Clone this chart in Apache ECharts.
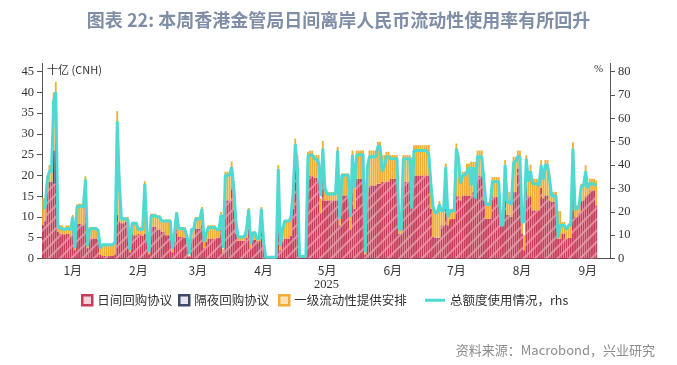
<!DOCTYPE html>
<html><head><meta charset="utf-8">
<script src="https://cdn.jsdelivr.net/npm/echarts@6/dist/echarts.min.js"></script>
<style>html,body{margin:0;padding:0;background:#fff}#c{width:677px;height:365px}</style>
</head><body><div id="c"></div>
<script>
// ---------------- data (daily, calendar days from 2025-01-01) ----------------
const startDate = '2025-01-01';
const axisEndDate = '2025-09-25';
const monthLabels = ['1月','2月','3月','4月','5月','6月','7月','8月','9月'];
const leftTicks = [0,5,10,15,20,25,30,35,40,45];
const rightTicks = [0,10,20,30,40,50,60,70,80];
const seriesNames = ['日间回购协议','隔夜回购协议','一级流动性提供安排','总额度使用情况，rhs'];

// 日间回购协议 (十亿 CNH)
const intradayRepo = [
 8,9,16,18.5,18.5,18,18,6.5,6,6,5.8,6,6,5.5,7,2,8.4,8.4,8.4,8,12.5,2.5,5,4.8,4.8,4.8,4.5,1,0.6,0.6,0.6,
 0.6,0.6,0.6,1,10.5,9,8.5,8.5,8.8,8.5,1.5,6,5.6,5.6,6,6,5.5,6,5,1,7.6,7.6,7.6,7,7,6.4,6.4,5.6,
 5.6,5.6,1.5,4,7,5.2,5.2,5.2,5,3,0.5,5,5,7.2,7.2,7.2,8,2.5,4,4.8,4.8,4.8,4.8,5,5,7,1.5,14,14,14,17.2,
 12,6,4.3,4.3,4.3,4.3,5,9.5,2.5,4.5,4.5,4.2,4.2,9,3.5,0.3,0.3,0.3,0.3,0.3,0.3,10,2,4,4.8,4.8,4.8,5.5,12,21.7,
 20,0.3,0.3,0.3,0.3,20,20,20,19.5,19.5,19,11,19.6,14,14,14,14,14,14,14,8,15.2,15.2,15.2,15.2,7,18,12,19.2,19.2,19.2,
 19.2,1,16,17.6,17.6,17.6,17.6,18,18,18.5,18.5,18.5,18.5,19.2,19.2,19.2,19.2,6,6,18.5,18.5,18.5,18.5,18.5,20,20,20,20,20,20,
 20,20,12,5.2,5,5,5,8,8,12,8,9.6,9.6,9.6,15,15,14,15.2,15.2,15.2,15.2,15,16,16,20,20,20,14,9.6,9.6,9.6,
 14.8,14.8,14.8,14.8,8,8,14,10.5,10.5,10,16,16,21.7,21.7,6,2,17.6,15,15,11.6,11.6,11.6,11.6,17,14.5,15.2,15.2,14,13.6,13.6,13.6,
 4.8,4.8,6,6,4.8,5,5,15.2,10,10,11,14,14,15,15.5,16.4,16.4,16.4,12.8
];
// 隔夜回购协议 (十亿 CNH), only the days where it is visible
const overnightRepo = [['2025-01-06', 8], ['2025-01-07', 12], ['2025-04-30', 0.8]];
// 一级流动性提供安排 (十亿 CNH)
const primaryLiquidity = [
 6.5,5.5,4,4,4,14,12.5,2.5,2,2,1.7,2,2,2,3.5,1,4.6,4.8,4.8,5,7.3,1.5,2.6,2.8,2.8,2.8,2.5,2,2.8,2.8,2.8,
 2.8,2.8,2.8,3,25,11,1.5,1.5,1.2,1.5,1,2.8,3.2,3.2,1.6,1.6,2,12.6,2,0.5,3.2,3.2,3.2,3.4,3.4,2.8,2.8,3.8,
 3.8,3.8,0.8,2,4.2,2.4,2.4,2.4,2.5,2,0.2,2.2,2.2,2.8,2.8,2.8,4.4,1.5,2,3.2,3.2,3.2,3.2,2.2,2.2,4.2,0.8,6.9,6.9,6.9,6.2,
 6,4.4,1.2,1.2,1.2,1.2,2,2.7,1,2,2,0.6,0.6,3.4,1.3,0,0,0,0,0,0,12.5,1.1,3,4.4,4.4,4.4,4.5,4.8,6.4,
 5,0,0,0,0,5.7,6,6,5.4,5.4,5.9,3.4,8.7,4.4,2,2,2,2,2,12.9,1.6,5.3,5.3,5.3,5.3,3.4,8,5.6,6.8,6.8,6.8,
 6.8,0.5,6.5,8.4,8.4,8.4,8.4,10.1,10.1,6.4,6.4,7.2,7.2,5.7,5.7,5.7,5.7,2.8,2.8,6.4,6.4,6.4,6.4,5.9,7.3,7.3,7.3,7.3,7.3,7.3,
 7.3,7.3,8,8.4,6.2,6.2,8.8,4,4,10.9,3,2.4,2.4,2.4,12.7,10,5.2,5.7,5.7,7.7,7.7,8.3,7.3,7.3,6,6,6,6,4,4,4,
 4.8,4.8,4.8,4.8,2.4,2.4,9.7,5.5,5.5,3.6,8.5,8.5,4.3,4.3,2.8,3.6,7.3,5,7.6,7.6,7.6,7.6,7.2,6.7,5.5,8.5,8.5,6,2.4,2.4,2.4,
 6.6,6.6,2.8,2.8,2,3.4,3.4,12.8,2.8,2.8,2.6,4,4,7.5,2.1,2.8,2.8,2.8,6
];
// 总额度使用情况 (%, rhs)
const usageRate = [
 21.3,22.2,33.8,37.3,37.3,67.5,71.1,14.2,12.8,12.8,12.4,12.8,12.8,12.4,17.8,4.4,22,22.4,22.4,22,33.8,5.3,12.4,12.8,12.8,12.8,12.1,4.4,5.9,5.9,5.9,
 5.9,5.9,5.9,7.1,58.7,32,16.9,16.9,16.9,16.5,3.6,15.1,15.1,15.1,12.4,12.4,12.4,32,11.6,2.7,18.3,18.3,18.3,17.8,17.8,16,16,16,
 16,16,4.1,10.7,19.6,12.8,12.8,12.8,12.4,8.9,1.8,12.4,12.4,16.9,16.9,16.9,21.3,7.1,10.7,13.3,13.3,13.3,13.3,12.4,12.4,18.7,4.4,35.6,35.6,35.6,39.1,
 30.2,16,9.2,9.2,9.2,9.2,12.4,21,6.2,11,11,8.5,8.5,21.3,8,0.5,0.5,0.5,0.5,0.5,0.5,38.2,5.3,12.4,16,16,16,17.8,28.4,48.9,
 39.1,0.9,0.9,0.9,0.9,43.6,44.4,44.4,42.7,42.7,41,26.7,47.1,30.2,27.6,27.6,27.6,27.6,27.6,46.2,16.9,35.6,35.6,35.6,35.6,17.8,44.4,30.2,44.4,44.4,44.4,
 44.4,2.7,39.1,43.6,43.6,43.6,43.6,48,48,37.3,39.1,43.6,43.6,42.7,42.7,42.7,42.7,12.4,12.4,42.7,42.7,42.7,42.7,21.3,46.2,46.2,46.2,46.2,46.2,46.2,
 46.2,44.4,32,22.2,19.6,19.6,23.1,20.4,20.4,39.1,17.8,20.4,20.4,20.4,47.1,42.7,32,35.6,35.6,37.3,39.1,31.3,39.1,25.6,43.6,43.6,43.6,33.8,23.1,23.1,23.1,
 32.9,32.9,32.9,32.9,14.2,14.2,40,24,24,23.1,40.9,41.8,43.6,43.6,15.6,15.6,42.7,32.9,37.3,32,32,32,31.1,40,33.8,40,40,33.8,26.7,26.7,26.7,
 8.9,14.2,14.2,14.2,12.4,14.2,14.2,47.1,21.3,21.3,23.1,31.1,31.1,37.3,30.2,32,32,32,31.1
];

// ---------------- build ----------------
const dates = [];
for (let t = Date.parse(startDate + 'T00:00:00Z'); t <= Date.parse(axisEndDate + 'T00:00:00Z'); t += 86400000) {
  dates.push(new Date(t).toISOString().slice(0, 10));
}
const ovnMap = Object.fromEntries(overnightRepo);
const pad = arr => dates.map((d, i) => i < arr.length ? arr[i] : null);
const ovnData = dates.map((d, i) => i < intradayRepo.length ? (ovnMap[d] || 0) : null);

const RED = '#c63d5a', NAVY = '#3f4a68', ORANGE = '#f1ae36', CYAN = '#4fd9d1';
const serif = 'Liberation Serif';
const cjk = 'Noto Sans CJK SC';

const chart = echarts.init(document.getElementById('c'), null, {renderer: 'canvas'});
const barCommon = {type: 'bar', stack: 'total', barCategoryGap: '12%', yAxisIndex: 0, z: 2};
const legendText = {fontSize: 12.5, color: '#333', fontFamily: cjk};
function oneLegend(item, left, extra) {
  return Object.assign({show: true, left: left, top: 294, itemWidth: 10, itemHeight: 10, itemGap: 0,
    padding: 0, icon: 'rect', textStyle: legendText, data: [item]}, extra || {});
}
chart.setOption({
  animation: false,
  backgroundColor: '#fff',
  title: {text: '图表 22: 本周香港金管局日间离岸人民币流动性使用率有所回升', left: 'center', top: 6,
    textStyle: {fontSize: 18, fontWeight: 'bold', color: '#7f8ea6', fontFamily: cjk}},
  grid: {left: 42, right: 67, top: 63.4, bottom: 106.5, containLabel: false},
  legend: [
    oneLegend({name: seriesNames[0], itemStyle: {color: '#f6d3da', borderColor: RED, borderWidth: 2.5, decal: 'none'}}, 81),
    oneLegend({name: seriesNames[1], itemStyle: {color: '#e4e7ef', borderColor: NAVY, borderWidth: 2.5}}, 178),
    oneLegend({name: seriesNames[2], itemStyle: {color: '#fbe3b5', borderColor: ORANGE, borderWidth: 2.5}}, 278),
    oneLegend({name: seriesNames[3]}, 425, {itemWidth: 20, itemHeight: 3})
  ],
  xAxis: {
    type: 'category', data: dates, boundaryGap: true,
    axisLine: {lineStyle: {color: '#555', width: 1}},
    axisTick: {interval: (i, v) => v.slice(8) === '01', length: 5, lineStyle: {color: '#555'}},
    axisLabel: {interval: (i, v) => v.slice(8) === '15', formatter: v => monthLabels[+v.slice(5, 7) - 1],
      color: '#333', fontSize: 12, margin: 6, fontFamily: cjk},
    splitLine: {show: false}
  },
  yAxis: [
    {type: 'value', min: 0, max: 47, interval: 5, position: 'left',
      axisLine: {show: true, lineStyle: {color: '#555'}},
      axisTick: {show: true, length: 5, customValues: leftTicks, lineStyle: {color: '#555'}},
      axisLabel: {customValues: leftTicks, color: '#333', fontSize: 12.5, fontFamily: serif, margin: 8},
      splitLine: {show: false}},
    {type: 'value', min: 0, max: 83.5, interval: 10, position: 'right',
      axisLine: {show: true, lineStyle: {color: '#555'}},
      axisTick: {show: true, length: 5, customValues: rightTicks, lineStyle: {color: '#555'}},
      axisLabel: {customValues: rightTicks, color: '#333', fontSize: 12.5, fontFamily: serif, margin: 8},
      splitLine: {show: false}}
  ],
  series: [
    Object.assign({}, barCommon, {name: seriesNames[0], data: pad(intradayRepo),
      itemStyle: {color: RED, decal: {symbol: 'rect', symbolSize: 1, color: 'rgba(255,200,212,0.55)',
        dashArrayX: [1, 0], dashArrayY: [2, 6], rotation: -Math.PI / 4}}}),
    Object.assign({}, barCommon, {name: seriesNames[1], data: ovnData, itemStyle: {color: NAVY}}),
    Object.assign({}, barCommon, {name: seriesNames[2], data: pad(primaryLiquidity), itemStyle: {color: ORANGE}}),
    {type: 'line', name: seriesNames[3], yAxisIndex: 1, data: pad(usageRate), symbol: 'none', z: 5,
      lineStyle: {color: CYAN, width: 3}, itemStyle: {color: CYAN}}
  ],
  graphic: [
    {type: 'text', left: 47, top: 64, style: {text: '十亿 (CNH)', fontSize: 11, fill: '#333', fontFamily: cjk}},
    {type: 'text', left: 594, top: 64, style: {text: '%', fontSize: 11, fill: '#333', fontFamily: serif}},
    {type: 'text', left: 314, top: 278, style: {text: '2025', fontSize: 12.5, fill: '#333', fontFamily: serif}},
    {type: 'text', right: 22, top: 344, style: {text: '资料来源：Macrobond，兴业研究', fontSize: 13, fill: '#8c8c8c', fontFamily: cjk}}
  ]
});
</script></body></html>
